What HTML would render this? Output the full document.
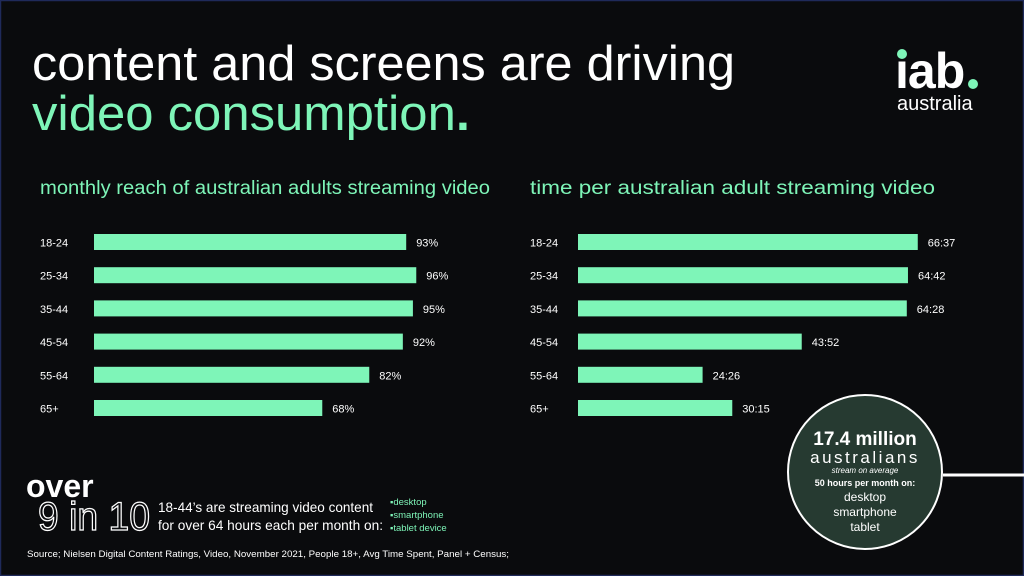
<!DOCTYPE html>
<html><head><meta charset="utf-8"><style>
html,body{margin:0;padding:0;background:#0a0b0d;}
svg{display:block;font-family:"Liberation Sans",sans-serif;}
</style></head><body>
<svg id="c" width="1024" height="576" viewBox="0 0 1024 576" xmlns="http://www.w3.org/2000/svg">
<rect x="0.5" y="0.5" width="1023" height="575" fill="#0a0b0d" stroke="#1f2a5a" stroke-width="1.5"/>
<text x="32" y="80" font-size="49" fill="#ffffff" textLength="703" lengthAdjust="spacingAndGlyphs">content and screens are driving</text>
<text x="32" y="130" font-size="49" fill="#7ef5b8" textLength="438" lengthAdjust="spacingAndGlyphs">video consumption<tspan font-weight="bold">.</tspan></text>
<g>
<text x="895" y="88" font-size="50" font-weight="bold" fill="#ffffff" letter-spacing="-1">ıab</text>
<circle cx="902" cy="54" r="5" fill="#7ef5b8"/>
<circle cx="973" cy="84" r="5" fill="#7ef5b8"/>
<text x="897" y="110" font-size="20" fill="#ffffff">australia</text>
</g>
<text x="40" y="194" font-size="19" fill="#7ef5b8" textLength="450" lengthAdjust="spacingAndGlyphs">monthly reach of australian adults streaming video</text>
<text x="530" y="194" font-size="19" fill="#7ef5b8" textLength="405" lengthAdjust="spacingAndGlyphs">time per australian adult streaming video</text>
<g id="left"></g>
<g id="right"></g>
<g>
<text x="26" y="497" font-size="32" font-weight="bold" fill="#ffffff">over</text>
<text x="38" y="530" font-size="40" fill="none" stroke="#ffffff" stroke-width="1.3" textLength="112" lengthAdjust="spacingAndGlyphs">9 in 10</text>
<text x="158" y="512" font-size="14" fill="#ffffff" textLength="215" lengthAdjust="spacingAndGlyphs">18-44’s are streaming video content</text>
<text x="158" y="530" font-size="14" fill="#ffffff" textLength="225" lengthAdjust="spacingAndGlyphs">for over 64 hours each per month on:</text>
<text x="390" y="505" font-size="9.5" fill="#7ef5b8">▪desktop</text>
<text x="390" y="518" font-size="9.5" fill="#7ef5b8">▪smartphone</text>
<text x="390" y="531" font-size="9.5" fill="#7ef5b8">▪tablet device</text>
</g>
<text x="27" y="557" font-size="9.5" fill="#ffffff" textLength="482" lengthAdjust="spacingAndGlyphs">Source; Nielsen Digital Content Ratings, Video, November 2021, People 18+, Avg Time Spent, Panel + Census;</text>
<g>
<line x1="943" y1="475" x2="1024" y2="475" stroke="#ffffff" stroke-width="3"/>
<circle cx="865" cy="472" r="77" fill="#263a31" stroke="#ffffff" stroke-width="2"/>
<text x="865" y="445" font-size="19" font-weight="bold" fill="#ffffff" text-anchor="middle">17.4 million</text>
<text x="865" y="463" font-size="17" fill="#ffffff" text-anchor="middle" letter-spacing="2.5">australians</text>
<text x="865" y="473" font-size="8" fill="#ffffff" text-anchor="middle" font-style="italic">stream on average</text>
<text x="865" y="486" font-size="9" font-weight="bold" fill="#ffffff" text-anchor="middle">50 hours per month on:</text>
<text x="865" y="501" font-size="12" fill="#ffffff" text-anchor="middle">desktop</text>
<text x="865" y="516" font-size="12" fill="#ffffff" text-anchor="middle">smartphone</text>
<text x="865" y="531" font-size="12" fill="#ffffff" text-anchor="middle">tablet</text>
</g>
</svg>
<script>
const ageGroups = ["18-24","25-34","35-44","45-54","55-64","65+"];
const reachValues = [93,96,95,92,82,68];
const reachLabels = ["93%","96%","95%","92%","82%","68%"];
const timeValues = [66.62,64.70,64.47,43.87,24.43,30.25];
const timeLabels = ["66:37","64:42","64:28","43:52","24:26","30:15"];
const NS="http://www.w3.org/2000/svg";
const rowY = i => 242 + i*33.2;
const xReach = v => 94 + 3.357*v;
const xTime = v => 578 + 5.1*v;
function mk(tag, attrs){const e=document.createElementNS(NS,tag);for(const k in attrs)e.setAttribute(k,attrs[k]);return e;}
function draw(gid, vals, labels, xs, x0, labX){
  const g=document.getElementById(gid);
  vals.forEach((v,i)=>{
    const y=rowY(i);
    const t=mk("text",{x:labX,y:y+4.5,"font-size":11,fill:"#ffffff"});
    t.textContent=ageGroups[i];
    
    
    g.appendChild(t);
    const r=mk("rect",{x:x0,y:y-8,width:Math.max(0,xs(v)-x0),height:16,fill:"#7ef5b8"});
    
    
    g.appendChild(r);
    const l=mk("text",{x:xs(v)+10,y:y+4.5,"font-size":11,fill:"#ffffff"});
    l.textContent=labels[i];
    
    
    g.appendChild(l);
  });
}
draw("left",reachValues,reachLabels,xReach,94,40);
draw("right",timeValues,timeLabels,xTime,578,530);
</script>
</body></html>
